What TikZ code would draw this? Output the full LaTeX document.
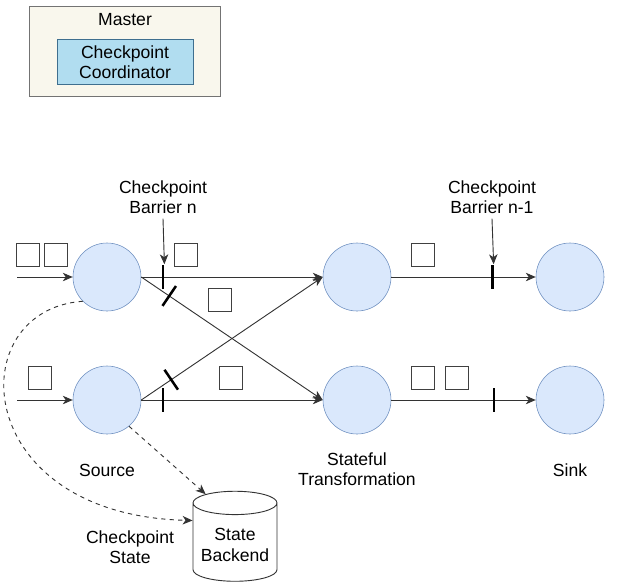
\documentclass[tikz,border=0pt]{standalone}
\usepackage{fontspec}
\setmainfont{Liberation Sans}
\usetikzlibrary{shapes.geometric,arrows.meta}
\definecolor{opfill}{HTML}{DAE8FC}
\definecolor{opdraw}{HTML}{6C8EBF}
\definecolor{coordfill}{HTML}{B1DDF0}
\definecolor{coorddraw}{HTML}{3F6F8F}
\definecolor{masterfill}{HTML}{F9F7ED}
\begin{document}
\begin{tikzpicture}[x=0.025cm,y=-0.025cm,>={Stealth[length=7pt,width=6pt,inset=2pt]},
  font=\fontsize{12.5}{14.5}\selectfont,
  op/.style={circle,draw=opdraw,fill=opfill,minimum size=1.7cm,inner sep=0pt},
  rec/.style={draw=black!75,minimum size=0.575cm,inner sep=0pt},
  barrier/.style={sloped,fill=black,minimum width=1.8pt,minimum height=0.6cm,inner sep=0pt},
  lbl/.style={align=center},
  flow/.style={->,line width=0.65pt,draw=black!80}]
\useasboundingbox (0,0) rectangle (620,587);
% master
\node at (125,51) (master) [draw=black!55,fill=masterfill,minimum width=4.775cm,minimum height=2.25cm] {};
\node at (125,20) (mtext) {Master};
\node at (125,62) (coord) [draw=coorddraw,fill=coordfill,minimum width=3.4cm,minimum height=1.125cm,lbl] {Checkpoint\\Coordinator};
% operators
\node at (107,277) (src1) [op] {};
\node at (107,400) (src2) [op] {};
\node at (357,277) (map1) [op] {};
\node at (357,400) (map2) [op] {};
\node at (570,277) (sink1) [op] {};
\node at (570,400) (sink2) [op] {};
\coordinate (in1) at (17,277);
\coordinate (in2) at (17,400);
% records
\node at (28,255) (r1) [rec] {};
\node at (56,255) (r2) [rec] {};
\node at (40,378) (r3) [rec] {};
\node at (186,255) (r4) [rec] {};
\node at (220,300) (r5) [rec] {};
\node at (231,378) (r6) [rec] {};
\node at (423,255) (r7) [rec] {};
\node at (423,378) (r8) [rec] {};
\node at (457,378) (r9) [rec] {};
% labels
\node at (163,197) (barn) [lbl] {Checkpoint\\Barrier n};
\node at (492,197) (barm) [lbl] {Checkpoint\\Barrier n-1};
\node at (107,470) (srclbl) {Source};
\node at (357,469) (maplbl) [lbl] {Stateful\\Transformation};
\node at (570,470) (sinklbl) {Sink};
\node at (130,547) (cplbl) [lbl] {Checkpoint\\State};
\node at (235,545) (backend) [cylinder,shape border rotate=90,aspect=0.3,draw=black!80,line width=0.65pt,minimum width=2.1cm,minimum height=2.25cm,lbl] {State\\Backend};
% streams
\draw[flow] (in1) -- (src1);
\draw[flow] (in2) -- (src2);
\draw[flow] (src1.east) -- node[barrier,pos=0.12] (b1) {} (map1.west);
\draw[flow] (src1.east) -- node[barrier,pos=0.154] (b2) {} (map2.west);
\draw[flow] (src2.east) -- node[barrier,pos=0.165] (b3) {} (map1.west);
\draw[flow] (src2.east) -- node[barrier,pos=0.12] (b4) {} (map2.west);
\draw[flow] (map1) -- node[barrier,pos=0.70] (b5) {} (sink1);
\draw[flow] (map2) -- node[barrier,pos=0.71] (b6) {} (sink2);
\draw[flow,shorten >=0.32cm] (barn.south) -- (b1.east);
\draw[flow,shorten >=0.32cm] (barm.south) -- (b5.east);
% snapshots
\draw[flow,dashed] (src1.225) .. controls (-40,310) and (-30,515) .. (backend.150);
\draw[flow,dashed] (src2.-50) -- (backend.120);
\end{tikzpicture}
\end{document}
